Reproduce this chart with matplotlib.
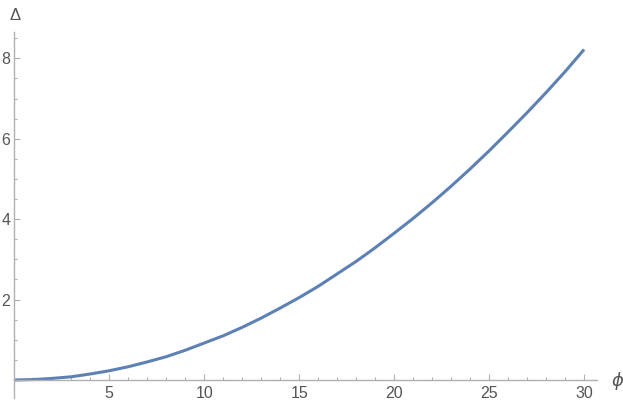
import numpy as np
import matplotlib
matplotlib.use("Agg")
import matplotlib.pyplot as plt
from matplotlib.ticker import MultipleLocator, FixedLocator

# values
phi = [0, 1, 2, 3, 4, 5, 6, 7, 8, 9, 10, 11, 12, 13, 14, 15,
       16, 17, 18, 19, 20, 21, 22, 23, 24, 25, 26, 27, 28, 29, 30]
delta = [0.0, 0.01, 0.04, 0.08, 0.15, 0.23, 0.33, 0.45, 0.58, 0.74, 0.92,
         1.10, 1.31, 1.54, 1.79, 2.05, 2.33, 2.64, 2.95, 3.29, 3.65,
         4.02, 4.41, 4.82, 5.25, 5.70, 6.17, 6.65, 7.15, 7.67, 8.22]
xticks = [5, 10, 15, 20, 25, 30]
yticks = [2, 4, 6, 8]

axcol = "#b0b0b0"
txtcol = "#555555"

fig = plt.figure(figsize=(6.23, 4.07), dpi=100)
ax = fig.add_axes([0.023, 0.0219, 0.935, 0.90])

ax.plot(phi, delta, color="#5E81B5", lw=2.2, solid_capstyle="butt")

ax.set_xlim(0, 30.67)
ax.set_ylim(-0.45, 8.66)

for s in ["top", "right"]:
    ax.spines[s].set_visible(False)
ax.spines["left"].set_position(("data", 0))
ax.spines["bottom"].set_position(("data", 0))
for s in ["left", "bottom"]:
    ax.spines[s].set_color(axcol)
    ax.spines[s].set_linewidth(1.0)

ax.xaxis.set_major_locator(FixedLocator(xticks))
ax.yaxis.set_major_locator(FixedLocator(yticks))
ax.xaxis.set_minor_locator(MultipleLocator(1))
ax.yaxis.set_minor_locator(MultipleLocator(0.5))
ax.tick_params(which="both", direction="in", color=axcol, width=0.8)
ax.tick_params(which="major", length=4, labelsize=11.5, labelcolor=txtcol)
ax.tick_params(which="minor", length=2.5)
ax.tick_params(axis="x", which="major", pad=4)
ax.tick_params(axis="y", which="major", pad=3)
for lab in ax.get_xticklabels() + ax.get_yticklabels():
    lab.set_fontfamily("Liberation Sans")

fig.text(617 / 623, 1 - 381 / 407, "ϕ", fontsize=13, style="italic",
         color=txtcol, ha="center", va="center")
fig.text(15 / 623, 1 - 15 / 407, "Δ", fontsize=12, color=txtcol,
         ha="center", va="center", family="Liberation Sans")

fig.savefig("out.png", dpi=100)
